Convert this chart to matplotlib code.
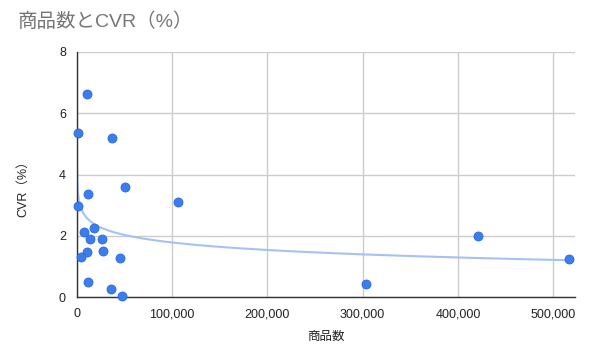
import numpy as np
import matplotlib
matplotlib.use("Agg")
import matplotlib.pyplot as plt
from matplotlib.ticker import FuncFormatter, MultipleLocator

plt.rcParams['font.family'] = ['Liberation Sans', 'Noto Sans CJK JP', 'DejaVu Sans']

# Data
item_counts = [10200, 1500, 36500, 50900, 11200, 1200, 105600, 7000, 18200, 13700,
               26300, 10200, 27400, 3900, 45600, 11600, 36100, 47400,
               303400, 420700, 516800]
cvr = [6.63, 5.37, 5.18, 3.59, 3.35, 2.98, 3.11, 2.12, 2.25, 1.89,
       1.88, 1.47, 1.51, 1.30, 1.27, 0.48, 0.27, 0.04,
       0.43, 2.00, 1.24]

# Logarithmic trendline (y = a + b*ln x), coefficients
trend_a = 5.844
trend_b = -0.353
trend_xmin = 120
trend_xmax = 516800

title = "商品数とCVR（%）"
xlabel = "商品数"
ylabel = "CVR（%）"

W, H = 600, 354
fig = plt.figure(figsize=(W / 100, H / 100), dpi=100)
L, R, T, B = 77, 575, 52, 297
ax = fig.add_axes([L / W, 1 - B / H, (R - L) / W, (B - T) / H])

tx = np.linspace(trend_xmin, trend_xmax, 2000)
ty = trend_a + trend_b * np.log(tx)
ax.plot(tx, ty, color='#a4c2f4', lw=1.5, zorder=2)

ax.scatter(item_counts, cvr, s=42, color='#3b7ded', edgecolors='#2a6ad8',
           linewidths=0.6, zorder=3, clip_on=False)

ax.set_xlim(0, 523000)
ax.set_ylim(0, 8)
ax.xaxis.set_major_locator(MultipleLocator(100000))
ax.yaxis.set_major_locator(MultipleLocator(2))
ax.xaxis.set_major_formatter(FuncFormatter(lambda v, p: f"{int(v):,}"))
ax.yaxis.set_major_formatter(FuncFormatter(lambda v, p: f"{int(v)}"))

ax.grid(True, color='#cccccc', lw=1)
ax.set_axisbelow(True)
for s in ['top', 'right']:
    ax.spines[s].set_visible(False)
for s in ['left', 'bottom']:
    ax.spines[s].set_color('#333333')
    ax.spines[s].set_linewidth(1)
ax.tick_params(length=0, labelsize=9, colors='#222222', pad=8)

fig.text(18 / W, 1 - 22 / H, title, fontsize=14, color='#757575',
         ha='left', va='center')
fig.text(0.5 * (L + R) / W, 1 - 337 / H, xlabel, fontsize=9, color='#222222',
         ha='center', va='center')
fig.text(23 / W, 1 - 186 / H, ylabel, fontsize=9, color='#222222',
         ha='center', va='center', rotation=90)

fig.savefig("out.png", dpi=100)
